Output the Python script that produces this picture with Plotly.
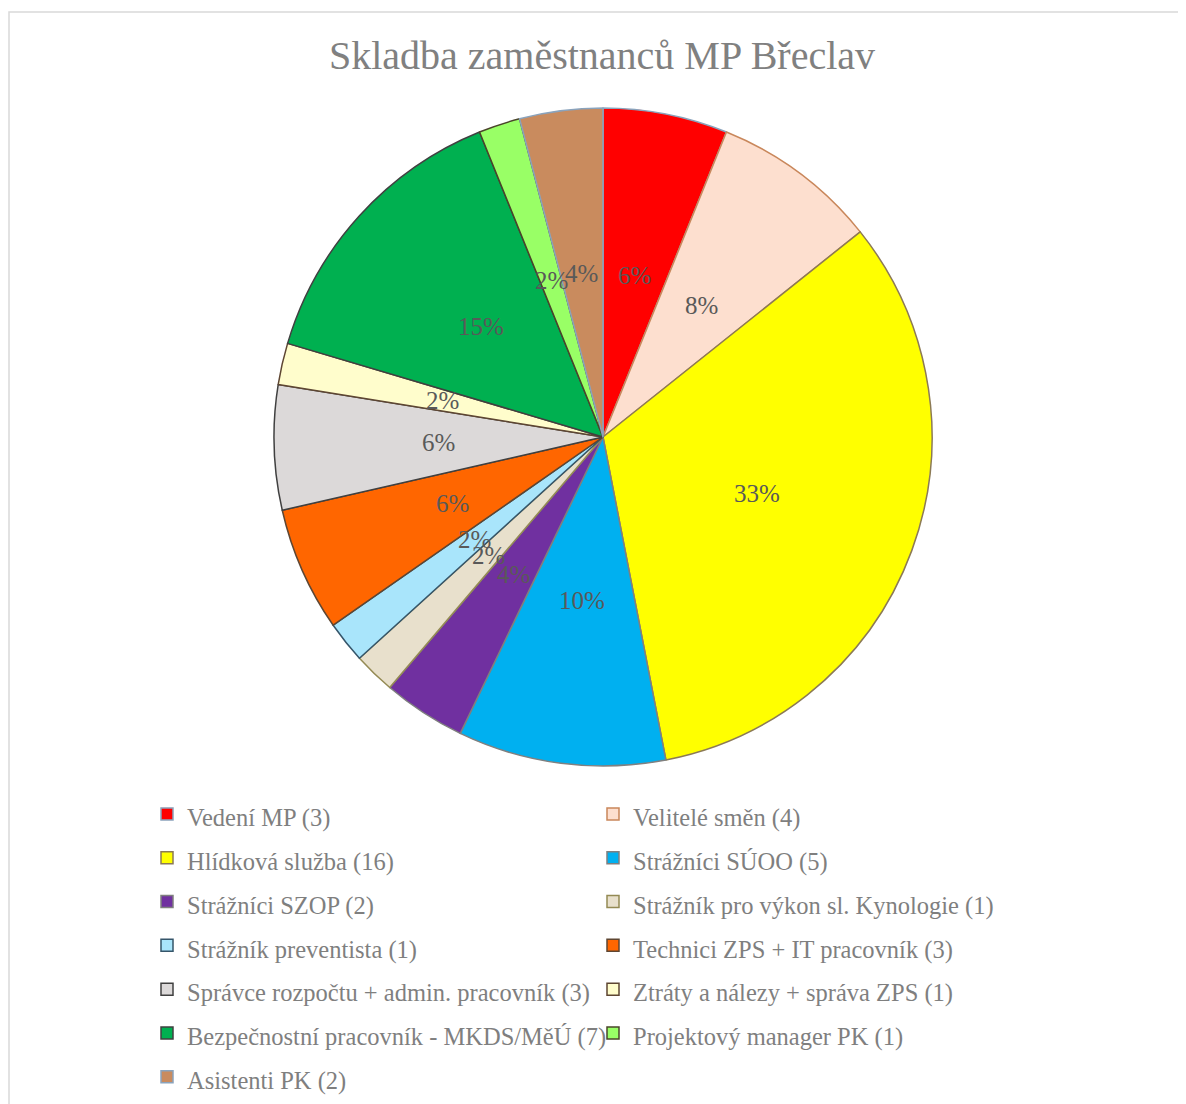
import math
import plotly.graph_objects as go

categories = [
    "Vedení MP (3)",
    "Velitelé směn (4)",
    "Hlídková služba (16)",
    "Strážníci SÚOO (5)",
    "Strážníci SZOP (2)",
    "Strážník pro výkon sl. Kynologie (1)",
    "Strážník preventista (1)",
    "Technici ZPS + IT pracovník (3)",
    "Správce rozpočtu + admin. pracovník (3)",
    "Ztráty a nálezy + správa ZPS (1)",
    "Bezpečnostní pracovník - MKDS/MěÚ (7)",
    "Projektový manager PK (1)",
    "Asistenti PK (2)",
]
values = [3, 4, 16, 5, 2, 1, 1, 3, 3, 1, 7, 1, 2]
pct_labels = ["6%", "8%", "33%", "10%", "4%", "2%", "2%", "6%", "6%", "2%", "15%", "2%", "4%"]
fill_colors = ["#FF0000", "#FDDFCF", "#FFFF00", "#00B0F0", "#7030A0", "#E8E0CC",
               "#A9E5FB", "#FF6600", "#DCD9D9", "#FFFDCC", "#00B050", "#99FF66", "#C98B5E"]
line_colors = ["#8AA3BC", "#C9875B", "#8C7A55", "#808080", "#7F7F7F", "#948A54",
               "#35556A", "#5E4632", "#404040", "#5E4632", "#404040", "#4A452A", "#8AA3BC"]

# page body adds an 8px margin; the figure is made taller than the window so the
# legend never pushes the margins (the overflow below the window is empty)
W, H = 1178, 1150
LEG_FS = 24.5

pie_domain = dict(x=[266 / W, 924 / W], y=[1 - 758 / H, 1 - 100 / H])

legend_labels = [f"<span style='font-size:{LEG_FS}px'>{c}</span>" for c in categories]

fig = go.Figure()
fig.add_trace(go.Pie(
    labels=legend_labels,
    values=values,
    textinfo="none",
    sort=False,
    direction="clockwise",
    rotation=0,
    marker=dict(colors=fill_colors, line=dict(color=line_colors, width=1.5)),
    domain=pie_domain,
    hoverinfo="label+value+percent",
))

# percentage labels: placed at half radius on each slice's mid-angle,
# using hidden axes that share the pie's square domain
total = sum(values)
acc = 0
annotations = []
for v, t in zip(values, pct_labels):
    ang = math.radians(360.0 * (acc + v / 2.0) / total)
    acc += v
    annotations.append(dict(
        x=0.5 * math.sin(ang), y=0.5 * math.cos(ang), xref="x", yref="y",
        text=t, showarrow=False, xanchor="center", yanchor="middle",
        font=dict(family="Liberation Serif", size=25, color="#595959"),
    ))

fig.update_layout(
    width=W, height=H,
    margin=dict(l=0, r=0, t=0, b=0),
    paper_bgcolor="white",
    plot_bgcolor="rgba(0,0,0,0)",
    font=dict(family="Liberation Serif", color="#7F7F7F"),
    xaxis=dict(domain=pie_domain["x"], range=[-1, 1], visible=False, fixedrange=True),
    yaxis=dict(domain=pie_domain["y"], range=[-1, 1], visible=False, fixedrange=True),
    annotations=annotations,
    title=dict(text="Skladba zaměstnanců MP Břeclav", x=594 / W, xanchor="center",
               y=1 - 47 / H, yanchor="middle",
               font=dict(family="Liberation Serif", size=40, color="#808080")),
    showlegend=True,
    legend=dict(
        orientation="h",
        x=139 / W, xanchor="left",
        y=1 - 779 / H, yanchor="top",
        entrywidth=401, entrywidthmode="pixels",
        font=dict(family="Liberation Serif", size=31.4, color="#7F7F7F"),
        traceorder="normal",
        bgcolor="rgba(0,0,0,0)",
    ),
    shapes=[dict(type="rect", xref="paper", yref="paper",
                 x0=1 / W, x1=1.02, y0=-0.02, y1=1 - 4 / H,
                 line=dict(color="#D9D9D9", width=1.5), fillcolor="rgba(0,0,0,0)", layer="below")],
)

fig.write_html("out.html")
